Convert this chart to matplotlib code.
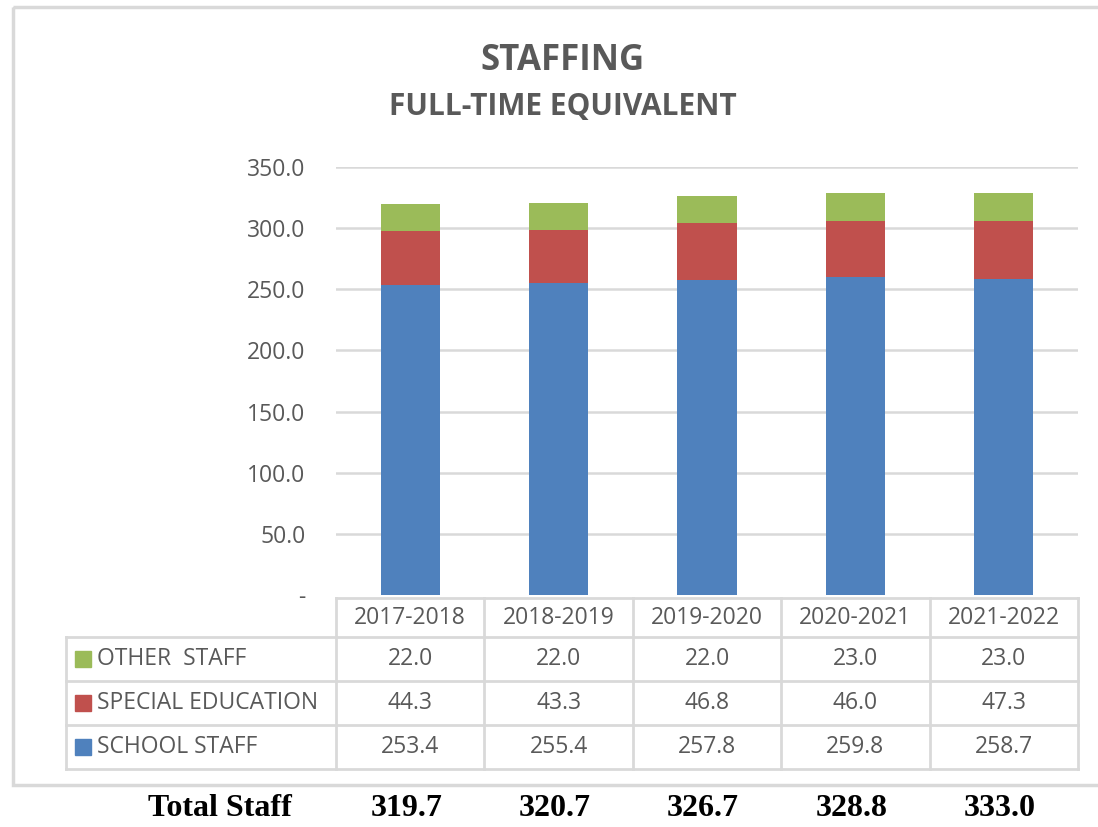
import matplotlib
matplotlib.use("Agg")
import matplotlib.pyplot as plt
from matplotlib.patches import Rectangle
from matplotlib.lines import Line2D

years = ["2017-2018", "2018-2019", "2019-2020", "2020-2021", "2021-2022"]
school_staff = [253.4, 255.4, 257.8, 259.8, 258.7]
special_ed = [44.3, 43.3, 46.8, 46.0, 47.3]
other_staff = [22.0, 22.0, 22.0, 23.0, 23.0]
totals = ["319.7", "320.7", "326.7", "328.8", "333.0"]
series_names = ["OTHER  STAFF", "SPECIAL EDUCATION", "SCHOOL STAFF"]
yticks = [0, 50, 100, 150, 200, 250, 300, 350]

C_BLUE = "#4f81bd"
C_RED = "#c0504d"
C_GREEN = "#9bbb59"
TXT = "#595959"
GRID = "#d9d9d9"
FS = 16.5

W, H = 1098, 827
fig = plt.figure(figsize=(W / 100, H / 100), dpi=100)
plt.rcParams['font.family'] = ['Open Sans', 'DejaVu Sans']

def fx(px):
    return px / W

def fy(py):
    return 1 - py / H

# Background overlay axes in pixel coordinates
bg = fig.add_axes([0, 0, 1, 1])
bg.set_xlim(0, W)
bg.set_ylim(H, 0)
bg.axis("off")

# outer frame
bg.add_patch(Rectangle((13, 7), W + 20, 778, fill=False, ec="#d9d9d9", lw=2.5))

# title
bg.text(563, 61, "STAFFING", ha="center", va="center", fontsize=25,
        fontweight="bold", color=TXT)
bg.text(563, 107, "FULL-TIME EQUIVALENT", ha="center", va="center", fontsize=21.5,
        fontweight="bold", color=TXT)

# main bar axes
left_px, right_px = 336, 1078
top_px, bot_px = 167, 595
ax = fig.add_axes([fx(left_px), fy(bot_px), fx(right_px - left_px), (bot_px - top_px) / H])
n = len(years)
x = list(range(n))
ax.bar(x, school_staff, width=0.4, color=C_BLUE, zorder=3)
b2 = [s for s in school_staff]
ax.bar(x, special_ed, width=0.4, bottom=b2, color=C_RED, zorder=3)
b3 = [s + e for s, e in zip(school_staff, special_ed)]
ax.bar(x, other_staff, width=0.4, bottom=b3, color=C_GREEN, zorder=3)
ax.set_xlim(-0.5, n - 0.5)
ax.set_ylim(0, 350)
ax.set_yticks(yticks)
ax.set_yticklabels(["-" if v == 0 else f"{v:.1f}" for v in yticks])
ax.tick_params(axis="y", length=0, pad=22, labelsize=FS, labelcolor=TXT)
ax.set_xticks([])
for v in yticks[1:]:
    ax.axhline(v, color=GRID, lw=1.8, zorder=1)
for s in ax.spines.values():
    s.set_visible(False)
ax.patch.set_alpha(0)

# data table
col_edges = [336 + i * (1078 - 336) / n for i in range(n + 1)]
row_edges = [598, 637, 681, 725, 769]
tbl_left = 66
line_kw = dict(color=GRID, lw=2)
bg.add_line(Line2D([col_edges[0], col_edges[-1]], [row_edges[0], row_edges[0]], **line_kw))
for r in row_edges[1:]:
    bg.add_line(Line2D([tbl_left, col_edges[-1]], [r, r], **line_kw))
for c in col_edges:
    bg.add_line(Line2D([c, c], [row_edges[0], row_edges[-1]], **line_kw))
bg.add_line(Line2D([tbl_left, tbl_left], [row_edges[1], row_edges[-1]], **line_kw))

for i, yr in enumerate(years):
    cx = (col_edges[i] + col_edges[i + 1]) / 2
    bg.text(cx, (row_edges[0] + row_edges[1]) / 2, yr, ha="center", va="center",
            fontsize=FS, color=TXT)

rows = [other_staff, special_ed, school_staff]
colors = [C_GREEN, C_RED, C_BLUE]
for r, (name, vals, col) in enumerate(zip(series_names, rows, colors)):
    cy = (row_edges[r + 1] + row_edges[r + 2]) / 2
    bg.add_patch(Rectangle((75, cy - 8), 16, 16, color=col))
    bg.text(97, cy, name, ha="left", va="center", fontsize=FS, color=TXT)
    for i, v in enumerate(vals):
        cx = (col_edges[i] + col_edges[i + 1]) / 2
        bg.text(cx, cy, f"{v:.1f}", ha="center", va="center", fontsize=FS, color=TXT)

# Total row
bg.text(220, 809, "Total Staff", ha="center", va="center", fontsize=23,
        fontweight="bold", family="Liberation Serif", color="black")
for i, t in enumerate(totals):
    cx = (col_edges[i] + col_edges[i + 1]) / 2
    bg.text(cx - 4, 809, t, ha="center", va="center", fontsize=23,
            fontweight="bold", family="Liberation Serif", color="black")

fig.savefig("out.png", dpi=100)
